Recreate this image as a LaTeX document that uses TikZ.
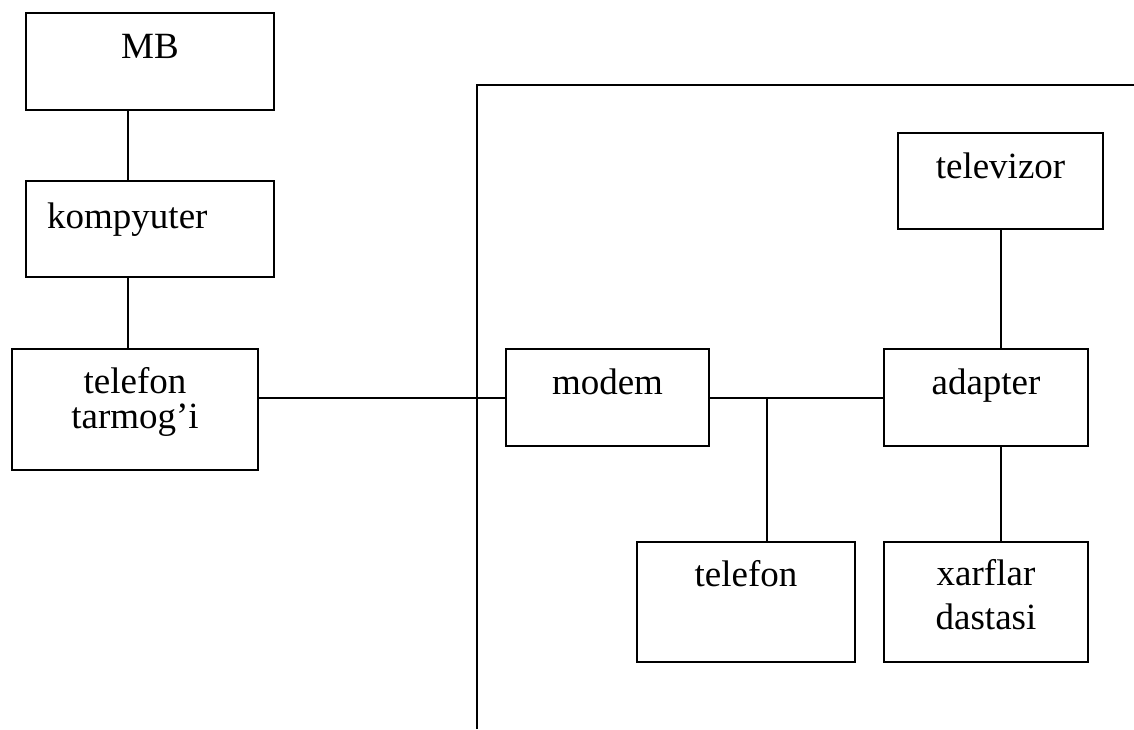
\documentclass[tikz,border=0pt]{standalone}
\usepackage{fontspec}
\setmainfont{Liberation Serif}
\begin{document}
\begin{tikzpicture}[x=1pt,y=-1pt,
  box/.style={draw, line width=2pt, inner sep=0pt, minimum width=#1},
  txt/.style={inner sep=0pt, anchor=base, font=\fontsize{37}{44}\selectfont},
  wire/.style={line width=2pt}]
\useasboundingbox (0,0) rectangle (1134,729);
% boxes (centre, width, height)
\node[box=248, minimum height=97] (mb) at (150,61.5) {};
\node[box=248, minimum height=96] (komp) at (150,229) {};
\node[box=246, minimum height=121] (tarm) at (135,409.5) {};
\node[box=203, minimum height=97] (modem) at (607.5,397.5) {};
\node[box=204, minimum height=97] (adapter) at (986,397.5) {};
\node[box=205, minimum height=96] (tv) at (1000.5,181) {};
\node[box=218, minimum height=120] (tel) at (746,602) {};
\node[box=204, minimum height=120] (xarf) at (986,602) {};
% texts
\node[txt] (tmb) at (150,58) {MB};
\node[txt, anchor=base west] (tkomp) at (47,228) {kompyuter};
\node[txt] (ttarm1) at (135,393) {telefon};
\node[txt] (ttarm2) at (135,428) {tarmog’i};
\node[txt] (tmodem) at (607.5,394) {modem};
\node[txt] (tadapter) at (986,394) {adapter};
\node[txt] (ttv) at (1000.5,178) {televizor};
\node[txt] (ttel) at (746,586) {telefon};
\node[txt] (txarf1) at (986,585) {xarflar};
\node[txt] (txarf2) at (986,629) {dastasi};
% helper coordinates
\coordinate (c1) at (128,0);
\coordinate (j) at (767,397.5);
\coordinate (bl) at (477,729);
\coordinate (tr) at (1134,85);
% connectors
\draw[wire] (mb.south -| c1) -- (komp.north -| c1);
\draw[wire] (komp.south -| c1) -- (tarm.north -| c1);
\draw[wire] (modem.west -| tarm.east) -- (modem.west);
\draw[wire] (modem.east) -- (adapter.west);
\draw[wire] (j) -- (tel.north -| j);
\draw[wire] (tv.south) -- (adapter.north -| tv.south);
\draw[wire] (adapter.south -| tv.south) -- (xarf.north -| tv.south);
\draw[wire] (bl) |- (tr);
\end{tikzpicture}
\end{document}
